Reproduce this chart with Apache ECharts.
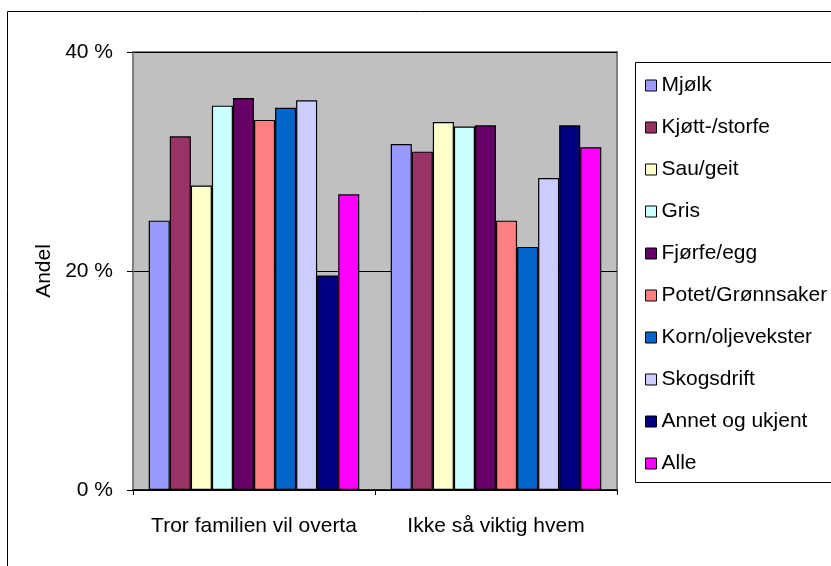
<!DOCTYPE html>
<html>
<head>
<meta charset="utf-8">
<script src="https://cdn.jsdelivr.net/npm/echarts@6/dist/echarts.min.js"></script>
<style>
    html, body { margin: 0; padding: 0; background: #fff; }
    #chart { width: 831px; height: 566px; }
</style>
</head>
<body>
<div id="chart"></div>
<script>
    // kategorier og serier
    const categories = ['Tror familien vil overta', 'Ikke så viktig hvem'];
    const seriesNames = ['Mjølk', 'Kjøtt-/storfe', 'Sau/geit', 'Gris', 'Fjørfe/egg',
        'Potet/Grønnsaker', 'Korn/oljevekster', 'Skogsdrift', 'Annet og ukjent', 'Alle'];
    const seriesColors = ['#9999FF', '#993366', '#FFFFCC', '#CCFFFF', '#660066',
        '#FF8080', '#0066CC', '#CCCCFF', '#000080', '#FF00FF'];
    // andel i prosent: [Tror familien vil overta, Ikke så viktig hvem]
    const mjolk = [24.6, 31.6];
    const kjott = [32.3, 30.9];
    const sau = [27.8, 33.6];
    const gris = [35.1, 33.2];
    const fjorfe = [35.8, 33.3];
    const potet = [33.8, 24.6];
    const korn = [34.9, 22.2];
    const skog = [35.6, 28.5];
    const annet = [19.6, 33.3];
    const alle = [27.0, 31.3];
    const seriesValues = [mjolk, kjott, sau, gris, fjorfe, potet, korn, skog, annet, alle];

    const chart = echarts.init(document.getElementById('chart'));
    const font = 'Liberation Sans, Arial, sans-serif';

    let option = {
        animation: false,
        textStyle: {fontFamily: font},
        graphic: [
            {
                type: 'rect',
                shape: {x: 7.5, y: 11.5, width: 900, height: 700},
                style: {fill: 'none', stroke: '#000', lineWidth: 1},
                silent: true
            },
            {
                type: 'rect',
                shape: {x: 635.5, y: 62.5, width: 300, height: 420},
                style: {fill: 'none', stroke: '#000', lineWidth: 1},
                silent: true
            }
        ],
        legend: {
            orient: 'vertical',
            left: 640,
            top: 70,
            itemWidth: 11,
            itemHeight: 11,
            itemGap: 21,
            itemTextGap: 8,
            icon: 'rect',
            data: seriesNames,
            itemStyle: {borderColor: '#000', borderWidth: 1},
            textStyle: {fontSize: 21, color: '#000', fontFamily: font}
        },
        grid: {
            left: 133,
            right: 214,
            top: 52,
            bottom: 76,
            show: true,
            backgroundColor: '#C0C0C0',
            borderColor: '#808080',
            borderWidth: 2
        },
        xAxis: {
            type: 'category',
            data: categories,
            axisLine: {lineStyle: {color: '#000', width: 1.5}},
            axisTick: {show: true, length: 5, lineStyle: {color: '#000'}},
            axisLabel: {fontSize: 21, color: '#000', margin: 26, interval: 0, fontFamily: font},
            splitLine: {show: false}
        },
        yAxis: {
            type: 'value',
            min: 0,
            max: 40,
            interval: 20,
            name: 'Andel',
            nameLocation: 'middle',
            nameGap: 76,
            nameTextStyle: {fontSize: 21, color: '#000', fontFamily: font},
            axisLine: {show: true, lineStyle: {color: '#808080', width: 2}},
            axisTick: {show: true, length: 6, lineStyle: {color: '#000'}},
            axisLabel: {fontSize: 21, color: '#000', margin: 20, formatter: '{value} %', fontFamily: font},
            splitLine: {show: true, lineStyle: {color: '#000', width: 1}}
        },
        series: seriesNames.map((name, i) => ({
            name: name,
            type: 'bar',
            data: seriesValues[i],
            barGap: '0%',
            barCategoryGap: '13%',
            itemStyle: {color: seriesColors[i], borderColor: '#000', borderWidth: 1.2}
        }))
    };
    chart.setOption(option);
</script>
</body>
</html>
